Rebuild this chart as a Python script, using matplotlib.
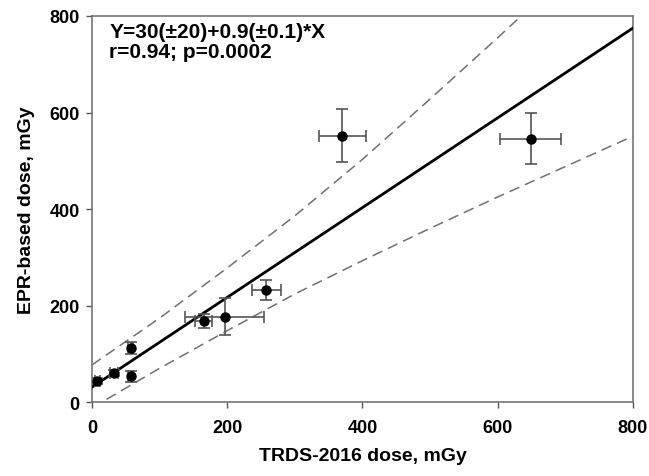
import numpy as np
import matplotlib
matplotlib.use("Agg")
import matplotlib.pyplot as plt

plt.rcParams["font.family"] = ["Liberation Sans", "DejaVu Sans"]
plt.rcParams["font.weight"] = "bold"

# TRDS-2016 dose vs EPR-based dose (mGy)
trds_dose = [8, 33, 57, 57, 165, 196, 258, 370, 649]
epr_dose = [43, 60, 112, 53, 168, 177, 232, 552, 546]
trds_err = [4, 6, 4, 4, 12, 59, 21, 35, 45]
epr_err = [6, 7, 12, 12, 15, 39, 21, 55, 52]

# regression line Y = a + b*X
fit_intercept = 31
fit_slope = 0.93

# dashed confidence bands
band_x = [0, 100, 200, 300, 400, 500, 600, 700, 800]
band_upper = [77, 174, 278, 386, 503, 628, 755, 885, 1015]
band_lower = [-12, 70, 148, 224, 293, 360, 425, 488, 551]

x_ticks = [0, 200, 400, 600, 800]
y_ticks = [0, 200, 400, 600, 800]

fig = plt.figure(figsize=(6.49, 4.77), dpi=100)
ax = fig.add_axes([0.1418, 0.155, 0.8335, 0.8094])

xs = np.array([0, 800])
ax.plot(xs, fit_intercept + fit_slope * xs, color="black", lw=2.0, zorder=3)
ax.plot(band_x, band_upper, color="#707070", lw=1.1, ls=(0, (7, 4)), zorder=2)
ax.plot(band_x, band_lower, color="#707070", lw=1.1, ls=(0, (7, 4)), zorder=2)

ax.errorbar(trds_dose, epr_dose, xerr=trds_err, yerr=epr_err, fmt="o",
            color="black", ms=6.5, ecolor="#555555", elinewidth=1.2,
            capsize=4, capthick=1.2, zorder=4)

ax.set_xlim(0, 800)
ax.set_ylim(0, 800)
ax.set_xticks(x_ticks)
ax.set_yticks(y_ticks)
ax.tick_params(direction="out", length=4, width=1, color="#555555",
               labelsize=13, pad=5)
ax.tick_params(axis="x", pad=8)
for lab in ax.get_xticklabels() + ax.get_yticklabels():
    lab.set_fontweight("bold")
for sp in ax.spines.values():
    sp.set_color("#777777")
    sp.set_linewidth(1.2)

ax.set_xlabel("TRDS-2016 dose, mGy", fontsize=14, fontweight="bold", labelpad=8)
ax.set_ylabel("EPR-based dose, mGy", fontsize=14, fontweight="bold", labelpad=10)

ax.text(0.032, 0.985, "Y=30(\u00b120)+0.9(\u00b10.1)*X\nr=0.94; p=0.0002",
        transform=ax.transAxes, ha="left", va="top", fontsize=15,
        fontweight="bold", linespacing=1.1)

fig.savefig("out.png", dpi=100)
